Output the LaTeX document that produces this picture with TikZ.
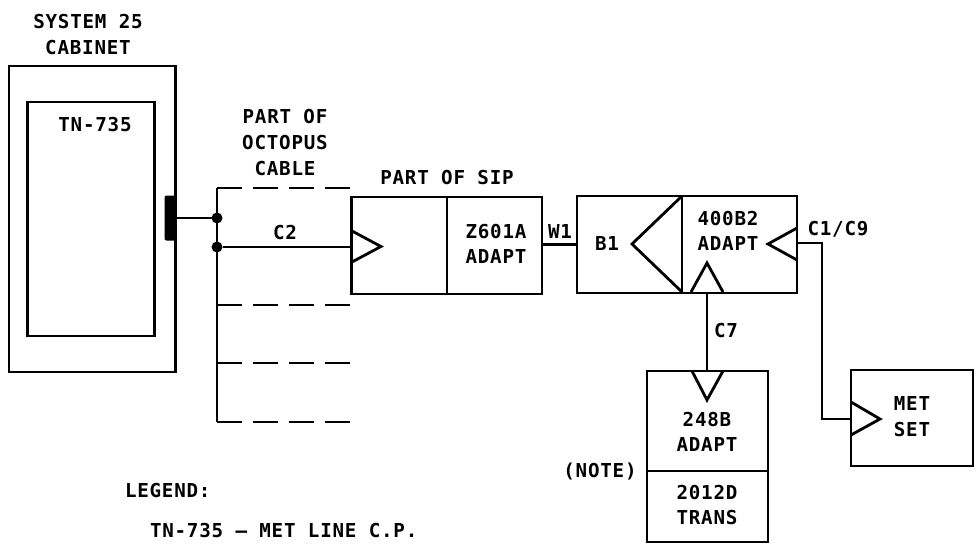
\documentclass[tikz,border=0pt]{standalone}
\usepackage{fontspec}
\setmainfont{DejaVu Sans Mono}[LetterSpace=4,BoldFont={DejaVu Sans Mono Bold}]
\begin{document}
\begin{tikzpicture}[x=1pt,y=-1pt,line width=2.8pt,line join=miter,
  box/.style={draw,rectangle,line width=2.8pt,inner sep=0pt,outer sep=0pt},
  lbl/.style={inner sep=0pt,outer sep=0pt,anchor=base,font=\fontsize{19.2}{20}\selectfont\bfseries},
  lbll/.style={lbl,anchor=base west},
  dot/.style={circle,fill=black,draw=none,minimum size=11pt,inner sep=0pt,outer sep=0pt},
  dashline/.style={dash pattern=on 25pt off 11pt}]
\useasboundingbox (0,0) rectangle (980,544);
% boxes
\node[box,minimum width=166.5pt,minimum height=306pt] (cabinet) at (92.25,219) {};
\node[box,minimum width=127pt,minimum height=234pt] (card) at (91,219) {};
\node[draw=none,fill=black,rounded corners=2pt,minimum width=12pt,minimum height=45pt,inner sep=0pt,outer sep=0pt] (jack) at (170.5,218) {};
\node[box,minimum width=190.5pt,minimum height=97pt] (sip) at (446.75,245.5) {};
\node[box,minimum width=220pt,minimum height=97pt] (adapt) at (687,244.5) {};
\node[box,minimum width=121pt,minimum height=171pt] (trans) at (707.5,456.5) {};
\node[box,minimum width=122pt,minimum height=96pt] (met) at (912,418) {};
% dividers
\draw (sip.north -| 447,0) -- (sip.south -| 447,0);
\draw (adapt.north -| 682,0) -- (adapt.south -| 682,0);
\draw (trans.west |- 0,471) -- (trans.east |- 0,471);
% dots
\node[dot] (d1) at (217,218) {};
\node[dot] (d2) at (217,247) {};
\coordinate (bus0) at (217,188);
\coordinate (bus1) at (217,305);
\coordinate (bus2) at (217,363);
\coordinate (bus3) at (217,422);
\coordinate (c2end) at (352,247);
\coordinate (c7a) at (707,293);
\coordinate (c7b) at (707,371);
\coordinate (c1a) at (797,243);
\coordinate (c1b) at (822,243);
\coordinate (c1c) at (822,419);
\coordinate (c1d) at (851,419);
% connectors
\draw (jack.east) -- (d1);
\draw (bus0) -- (bus3);
\draw (d2) -- (c2end);
\draw (sip.east |- adapt.west) -- (adapt.west);
\draw (c7a) -- (c7b);
\draw (c1a) -- (c1b) -- (c1c) -- (c1d);
% dashed stubs
\draw[dashline] (bus0) -- ++(135,0);
\draw[dashline] (bus1) -- ++(135,0);
\draw[dashline] (bus2) -- ++(135,0);
\draw[dashline] (bus3) -- ++(135,0);
% triangles
\draw (352,231) -- (381,246.5) -- (352,262);
\draw (682,196) -- (632,244) -- (682,292);
\draw (797,228) -- (768,244) -- (797,260);
\draw (691,292) -- (707,263) -- (723,292);
\draw (692,371) -- (707,400) -- (723,371);
\draw (851,402) -- (880,419) -- (851,435);
% labels
\node[lbl] (t1) at (88,28) {SYSTEM 25};
\node[lbl] (t2) at (88,54) {CABINET};
\node[lbl] (t3) at (95,131) {TN-735};
\node[lbl] (t4) at (285,123) {PART OF};
\node[lbl] (t5) at (285,149) {OCTOPUS};
\node[lbl] (t6) at (285,175) {CABLE};
\node[lbl] (t7) at (285,239) {C2};
\node[lbl] (t8) at (447,184) {PART OF SIP};
\node[lbl] (t9) at (496,238) {Z601A};
\node[lbl] (t10) at (496,263) {ADAPT};
\node[lbl] (t11) at (560,238) {W1};
\node[lbl] (t12) at (607,250) {B1};
\node[lbl] (t13) at (728,225) {400B2};
\node[lbl] (t14) at (728,250) {ADAPT};
\node[lbl] (t15) at (838,235) {C1/C9};
\node[lbl] (t16) at (726,337) {C7};
\node[lbl] (t17) at (707,426) {248B};
\node[lbl] (t18) at (707,451) {ADAPT};
\node[lbl] (t19) at (600,477) {(NOTE)};
\node[lbl] (t20) at (707,499) {2012D};
\node[lbl] (t21) at (707,524) {TRANS};
\node[lbl] (t22) at (912,410) {MET};
\node[lbl] (t23) at (912,436) {SET};
\node[lbll] (t24) at (125,497) {LEGEND:};
\node[lbll] (t25) at (150,537) {TN-735 -- MET LINE C.P.};
\end{tikzpicture}
\end{document}
